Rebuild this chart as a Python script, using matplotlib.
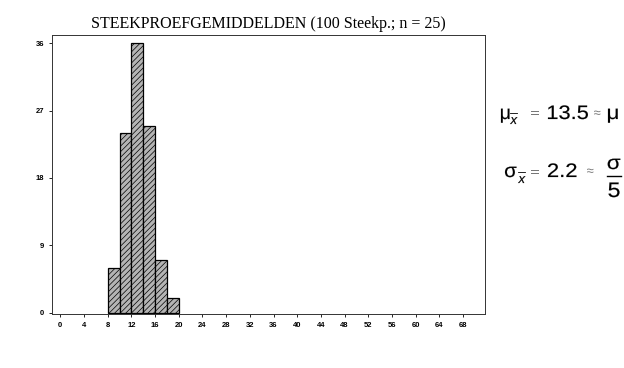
import numpy as np
import matplotlib.pyplot as plt
from matplotlib.textpath import TextPath
from matplotlib.patches import PathPatch
from matplotlib.font_manager import FontProperties
from matplotlib.transforms import Affine2D

plt.rcParams['hatch.linewidth'] = 0.5

# histogram of 100 sample means (n = 25), class width 2
bin_left = [8, 10, 12, 14, 16, 18]
counts = [6, 24, 36, 25, 7, 2]
bin_width = 2

x_ticks = list(range(0, 69, 4))
y_ticks = [0, 9, 18, 27, 36]

W, H = 624, 368
fig = plt.figure(figsize=(W / 100, H / 100), dpi=100, facecolor="white")
ax = fig.add_axes([52 / W, 1 - 314 / H, (485 - 52) / W, (314 - 35) / H])

ax.bar(bin_left, counts, width=bin_width, align="edge",
       facecolor="#b4b4b4", edgecolor="black", linewidth=0.9, hatch="//////")

ax.set_xlim(-1.4, 71.7)
ax.set_ylim(-0.2, 37.1)
ax.set_xticks(x_ticks)
ax.set_yticks(y_ticks)
ax.tick_params(axis="both", labelsize=5.5, length=2.5, width=0.6, pad=3)
for lab in ax.get_xticklabels() + ax.get_yticklabels():
    lab.set_fontweight("bold")
    lab.set_family("Liberation Sans")
for s in ax.spines.values():
    s.set_linewidth(0.7)
    s.set_color("#333333")

ax.set_title("STEEKPROEFGEMIDDELDEN (100 Steekp.; n = 25)",
             family="Liberation Serif", fontsize=11.5, pad=5)

# pixel coordinates measured from the top-left corner
pix = Affine2D().scale(1 / W, 1 / H) + fig.transFigure


def stamp(s, x, y, em, sx=1.0, style="normal", color="black", ha="left",
          lw=0.12):
    """Draw s as a path, widened by sx, with its baseline at pixel row y."""
    tp = TextPath((0, 0), s, size=1,
                  prop=FontProperties(family="Liberation Sans", style=style))
    bb = tp.get_extents()
    # x is where the ink starts (or its centre)
    shift = (bb.x0 + bb.x1) / 2 if ha == "center" else bb.x0
    x = x - shift * em * sx
    tr = Affine2D().scale(em * sx, em).translate(x, H - y) + pix
    fig.add_artist(PathPatch(tp, transform=tr, facecolor=color,
                             edgecolor=color, linewidth=lw))


def bar_line(x0, x1, y, lw=0.9):
    fig.add_artist(plt.Line2D([x0 / W, x1 / W], [1 - y / H, 1 - y / H],
                              color="black", linewidth=lw))


# mean of the sample means
stamp("μ", 501, 119, 19.5, 1.0)
stamp("x", 510, 124, 13, 1.0, style="italic")
bar_line(510, 517, 113, 0.6)
stamp("=", 531, 118, 15, 1.15, color="#777777", lw=0)
stamp("13.5", 548, 119, 19.5, 1.12)
stamp("≈", 594, 117, 13, 1.0, color="#777777", lw=0)
stamp("μ", 608, 119, 19.5, 1.15)

# standard error of the mean
stamp("σ", 505, 177, 19.5, 1.05)
stamp("x", 518, 183, 13, 1.0, style="italic")
bar_line(518, 525, 172, 0.6)
stamp("=", 531, 177, 15, 1.15, color="#777777", lw=0)
stamp("2.2", 548, 177, 19.5, 1.13)
stamp("≈", 587, 175, 13, 1.0, color="#777777", lw=0)
stamp("σ", 614, 169, 19.5, 1.15, ha="center")
bar_line(607, 621, 176, 1.0)
stamp("5", 614, 197, 21, 1.1, ha="center")

plt.savefig("out.png", dpi=100, facecolor="white")
